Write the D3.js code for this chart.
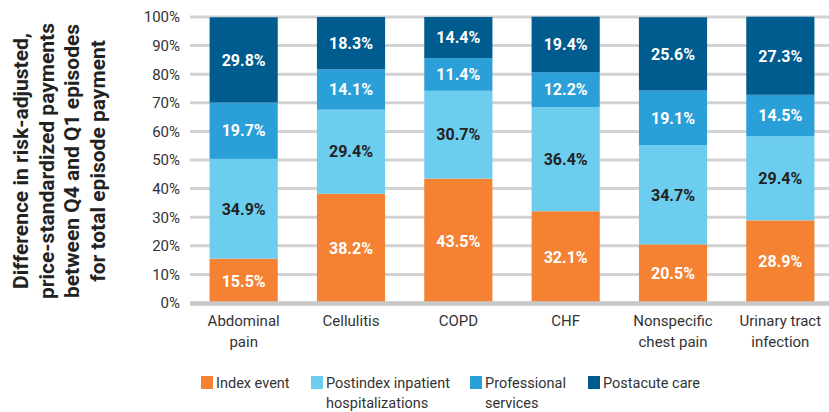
<!DOCTYPE html>
<html>
<head>
<meta charset="utf-8">
<script src="https://cdn.jsdelivr.net/npm/d3@7"></script>
<style>
  body { margin: 0; background: #fff; }
  svg { font-family: Roboto, "Noto Sans", sans-serif; }
</style>
</head>
<body>
<svg width="829" height="412"></svg>
<script>
var categories = [["Abdominal", "pain"], ["Cellulitis"], ["COPD"], ["CHF"], ["Nonspecific", "chest pain"], ["Urinary tract", "infection"]];
var seriesNames = [["Index event"], ["Postindex inpatient", "hospitalizations"], ["Professional", "services"], ["Postacute care"]];
var indexEvent = [15.5, 38.2, 43.5, 32.1, 20.5, 28.9];
var postindex = [34.9, 29.4, 30.7, 36.4, 34.7, 29.4];
var professional = [19.7, 14.1, 11.4, 12.2, 19.1, 14.5];
var postacute = [29.8, 18.3, 14.4, 19.4, 25.6, 27.3];
var yTicks = [0, 10, 20, 30, 40, 50, 60, 70, 80, 90, 100];
var colors = ["#f58233", "#6dcdee", "#2a9fd8", "#005b8e"];
var titleLines = ["Difference in risk-adjusted,", "price-standardized payments", "between Q4 and Q1 episodes", "for total episode payment"];

var svg = d3.select("svg");
var plotLeft = 190, plotRight = 834, plotTop = 17, plotBottom = 303;

var x = d3.scaleBand().domain(d3.range(categories.length)).range([plotLeft, plotRight])
  .paddingInner(0.365).paddingOuter(0.1825);
var y = d3.scaleLinear().domain([0, 100]).range([plotBottom, plotTop]);

// grid
svg.append("g").selectAll("line").data(yTicks).enter().append("line")
  .attr("x1", plotLeft).attr("x2", 829)
  .attr("y1", function(d) { return y(d); }).attr("y2", function(d) { return y(d); })
  .attr("stroke", "#d2d2d2").attr("stroke-width", 3);

// y tick labels
svg.append("g").selectAll("text").data(yTicks).enter().append("text")
  .attr("x", 180).attr("y", function(d) { return y(d); })
  .attr("dy", "0.36em").attr("text-anchor", "end")
  .attr("font-size", 15).attr("fill", "#333")
  .text(function(d) { return d + "%"; });

var rows = categories.map(function(c, i) {
  return [indexEvent[i], postindex[i], professional[i], postacute[i]];
});

rows.forEach(function(vals, i) {
  var y0 = 0;
  vals.forEach(function(v, k) {
    var g = svg.append("g");
    g.append("rect")
      .attr("x", x(i)).attr("width", x.bandwidth())
      .attr("y", y(y0 + v)).attr("height", y(y0) - y(y0 + v))
      .attr("fill", colors[k]);
    g.append("text")
      .attr("x", x(i) + x.bandwidth() / 2)
      .attr("y", y(y0 + v / 2)).attr("dy", "0.36em")
      .attr("text-anchor", "middle")
      .attr("font-size", 16).attr("font-weight", "bold")
      .attr("fill", k == 1 ? "#222" : "#fff")
      .text(v.toFixed(1) + "%");
    y0 += v;
  });
});

// baseline
svg.append("line").attr("x1", plotLeft).attr("x2", 829).attr("y1", y(0) + 0.5).attr("y2", y(0) + 0.5)
  .attr("stroke", "#c8c8c8").attr("stroke-width", 4.5);

// x labels
categories.forEach(function(lines, i) {
  var t = svg.append("text").attr("text-anchor", "middle").attr("font-size", 15).attr("fill", "#333")
    .attr("x", x(i) + x.bandwidth() / 2).attr("y", 326);
  lines.forEach(function(l, j) {
    t.append("tspan").attr("x", x(i) + x.bandwidth() / 2).attr("dy", j ? 21 : 0).text(l);
  });
});

// y title
var tt = svg.append("text").attr("transform", "translate(0,161) rotate(-90)")
  .attr("text-anchor", "middle").attr("font-size", 21).attr("font-weight", "bold").attr("fill", "#222");
titleLines.forEach(function(l, j) {
  tt.append("tspan").attr("x", 0).attr("y", 28 + j * 25.5).text(l);
});

// legend
var legendX = [201, 311, 470, 588];
seriesNames.forEach(function(lines, k) {
  svg.append("rect").attr("x", legendX[k]).attr("y", 376).attr("width", 12).attr("height", 13).attr("fill", colors[k]);
  var t = svg.append("text").attr("font-size", 14.5).attr("fill", "#333").attr("y", 388);
  lines.forEach(function(l, j) {
    t.append("tspan").attr("x", legendX[k] + 15).attr("dy", j ? 19.5 : 0).text(l);
  });
});
</script>
</body>
</html>
